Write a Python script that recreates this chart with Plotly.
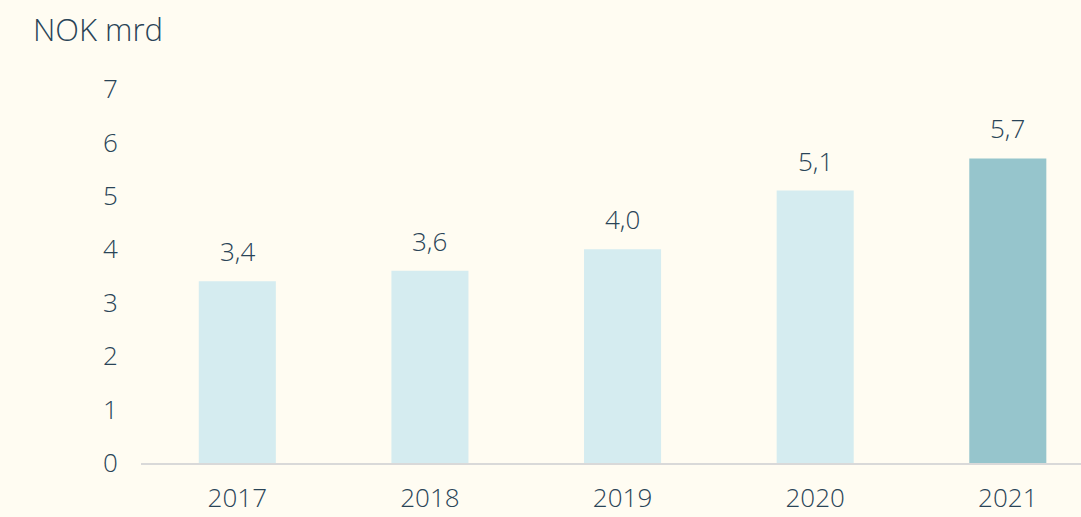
import plotly.graph_objects as go

years = ["2017", "2018", "2019", "2020", "2021"]
values = [3.4, 3.6, 4.0, 5.1, 5.7]
bar_colors = ["#D5ECF0", "#D5ECF0", "#D5ECF0", "#D5ECF0", "#96C5CC"]
y_ticks = [0, 1, 2, 3, 4, 5, 6, 7]
unit_label = "NOK mrd"

BG = "#FFFCF2"
TXT = "#2A4457"
FONT = "Open Sans"
W = 300

fig = go.Figure()
fig.add_trace(go.Bar(
    x=list(range(len(years))), y=values,
    marker=dict(color=bar_colors, line=dict(width=0)),
    width=0.4, hoverinfo="skip",
))

for i, v in enumerate(values):
    fig.add_annotation(
        x=i, y=v, xref="x", yref="y", text=f"{v:.1f}".replace(".", ","),
        showarrow=False, yanchor="bottom", yshift=10,
        font=dict(family=FONT, size=26, color=TXT, weight=W),
    )

fig.update_layout(
    width=1081, height=517,
    paper_bgcolor=BG, plot_bgcolor=BG,
    margin=dict(l=141, r=0, t=89, b=54),
    showlegend=False,
    font=dict(family=FONT, size=26, color=TXT, weight=W),
    title=dict(text=unit_label, x=33 / 1081, xanchor="left", y=1 - 19 / 517,
               yanchor="top", font=dict(family=FONT, size=31, color=TXT, weight=W)),
    xaxis=dict(range=[-0.5, 4.38], tickvals=list(range(len(years))),
               ticktext=years, showgrid=False, automargin=False,
               showline=True, linecolor="#D9D9D9", linewidth=2,
               ticks="outside", ticklen=11, tickcolor=BG, zeroline=False,
               tickfont=dict(family=FONT, size=26, color=TXT, weight=W)),
    yaxis=dict(range=[0, 7], tickvals=y_ticks, showgrid=False, zeroline=False,
               showline=False, ticks="outside", ticklen=17, tickcolor=BG,
               automargin=False,
               tickfont=dict(family=FONT, size=26, color=TXT, weight=W)),
)

fig.write_html("out.html", config={"displayModeBar": False},
               post_script="document.body.style.margin='0';document.body.style.overflow='hidden';")
